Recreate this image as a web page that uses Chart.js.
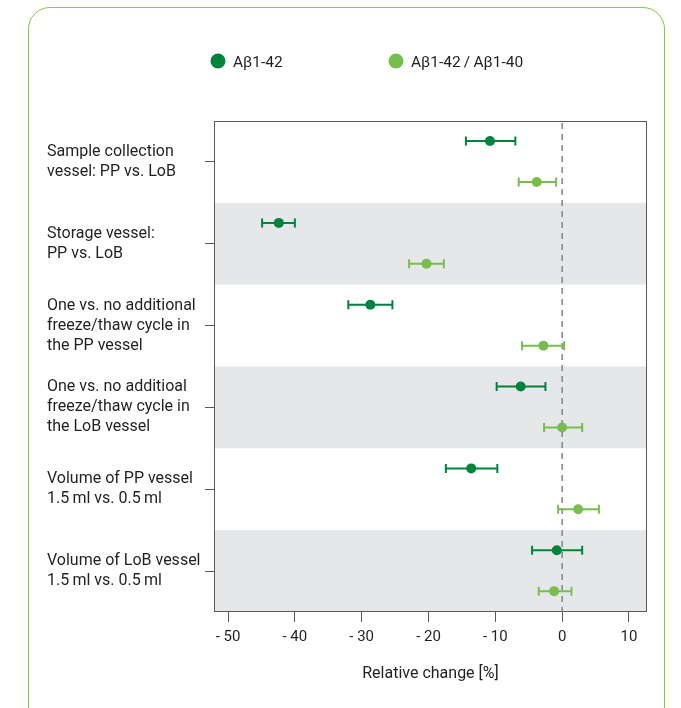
<!DOCTYPE html>
<html>
<head>
<meta charset="utf-8">
<script src="https://cdn.jsdelivr.net/npm/chart.js@4/dist/chart.umd.min.js"></script>
<style>
  html, body { margin: 0; padding: 0; background: #ffffff; }
  #wrap { position: relative; width: 681px; height: 708px; overflow: hidden; }
  #frame {
    position: absolute; left: 28px; top: 7px; width: 637px; height: 760px;
    border: 1.5px solid #8DC63F; border-radius: 22px; box-sizing: border-box;
  }
  canvas { position: absolute; left: 0; top: 0; }
</style>
</head>
<body>
<div id="wrap">
  <div id="frame"></div>
  <canvas id="c" width="681" height="708"></canvas>
</div>
<script>
// Comparisons (rows, top to bottom)
const categories = [
  ['Sample collection', 'vessel: PP vs. LoB'],
  ['Storage vessel:', 'PP vs. LoB'],
  ['One vs. no additional', 'freeze/thaw cycle in', 'the PP vessel'],
  ['One vs. no additioal', 'freeze/thaw cycle in', 'the LoB vessel'],
  ['Volume of PP vessel', '1.5\u2009ml vs. 0.5\u2009ml'],
  ['Volume of LoB vessel', '1.5\u2009ml vs. 0.5\u2009ml']
];

// Aβ1-42: relative change [%] with confidence limits
const ab42Mean = [-10.8, -42.4, -28.7, -6.2, -13.6, -0.8];
const ab42Low  = [-14.4, -44.9, -32.0, -9.8, -17.4, -4.5];
const ab42High = [-7.0, -40.0, -25.4, -2.5, -9.7, 3.0];

// Aβ1-42 / Aβ1-40 ratio
const ratioMean = [-3.8, -20.3, -2.8, 0.0, 2.4, -1.2];
const ratioLow  = [-6.5, -22.9, -6.0, -2.7, -0.6, -3.5];
const ratioHigh = [-0.9, -17.7, 0.3, 3.0, 5.5, 1.4];

const xTickValues = [-50, -40, -30, -20, -10, 0, 10];

const seriesNames = ['A\u03B21-42', 'A\u03B21-42\u2009/\u2009A\u03B21-40'];
const DARK = '#00843D';
const LIGHT = '#78BE4E';
const FONT = 'Roboto, "Liberation Sans", sans-serif';
const TEXT = '#231F20';

function rowsToPoints(mean, low, high, shift) {
  return mean.map((m, i) => ({ x: m, y: i + shift, lo: low[i], hi: high[i] }));
}

// Alternating grey row bands, drawn beneath everything else
const bandsPlugin = {
  id: 'bands',
  beforeDraw(chart) {
    const { ctx, chartArea: a, scales: { y } } = chart;
    ctx.save();
    ctx.fillStyle = '#E6E7E8';
    categories.forEach((_, i) => {
      if (i % 2 === 1) {
        const t = y.getPixelForValue(i - 0.5);
        const b = y.getPixelForValue(i + 0.5);
        ctx.fillRect(a.left, Math.min(t, b), a.right - a.left, Math.abs(b - t));
      }
    });
    ctx.restore();
  }
};

// Plot frame, zero reference line and horizontal error bars
const overlayPlugin = {
  id: 'overlay',
  beforeDatasetsDraw(chart) {
    const { ctx, chartArea: a, scales: { x, y } } = chart;
    ctx.save();
    // frame
    ctx.strokeStyle = '#58595B';
    ctx.lineWidth = 1;
    ctx.strokeRect(Math.round(a.left) + 0.5, Math.round(a.top) + 0.5,
                   Math.round(a.right - a.left) - 1, Math.round(a.bottom - a.top) - 1);
    // dashed zero line
    const x0 = x.getPixelForValue(0);
    ctx.strokeStyle = '#7A7B7D';
    ctx.lineWidth = 1.4;
    ctx.setLineDash([6, 5]);
    ctx.beginPath();
    ctx.moveTo(x0, a.top + 2);
    ctx.lineTo(x0, a.bottom);
    ctx.stroke();
    ctx.setLineDash([]);
    // error bars
    chart.data.datasets.forEach((ds) => {
      ctx.strokeStyle = ds.backgroundColor;
      ctx.lineWidth = 2;
      ds.data.forEach((p) => {
        const py = y.getPixelForValue(p.y);
        const xl = x.getPixelForValue(p.lo);
        const xh = x.getPixelForValue(p.hi);
        ctx.beginPath();
        ctx.moveTo(xl, py); ctx.lineTo(xh, py);
        ctx.moveTo(xl, py - 4.5); ctx.lineTo(xl, py + 4.5);
        ctx.moveTo(xh, py - 4.5); ctx.lineTo(xh, py + 4.5);
        ctx.stroke();
      });
    });
    ctx.restore();
  }
};

// Legend row above the plot
const legendPlugin = {
  id: 'dotLegend',
  afterDraw(chart) {
    const { ctx, chartArea: a } = chart;
    ctx.save();
    ctx.font = '15.5px ' + FONT;
    ctx.textBaseline = 'middle';
    ctx.textAlign = 'left';
    const yMid = 61;
    const starts = [a.left + 4, a.left + 182];
    chart.data.datasets.forEach((ds, i) => {
      const cx = starts[i];
      ctx.fillStyle = ds.backgroundColor;
      ctx.beginPath();
      ctx.arc(cx, yMid, 7.5, 0, Math.PI * 2);
      ctx.fill();
      ctx.fillStyle = TEXT;
      ctx.fillText(ds.label, cx + 15, yMid + 2);
    });
    ctx.restore();
  }
};

new Chart(document.getElementById('c'), {
  type: 'scatter',
  data: {
    datasets: [
      {
        label: seriesNames[0],
        data: rowsToPoints(ab42Mean, ab42Low, ab42High, -0.255),
        backgroundColor: DARK, borderColor: DARK,
        pointRadius: 5, pointHoverRadius: 5, borderWidth: 0
      },
      {
        label: seriesNames[1],
        data: rowsToPoints(ratioMean, ratioLow, ratioHigh, 0.245),
        backgroundColor: LIGHT, borderColor: LIGHT,
        pointRadius: 5, pointHoverRadius: 5, borderWidth: 0
      }
    ]
  },
  options: {
    responsive: false,
    animation: false,
    events: [],
    layout: { padding: { left: 47, right: 34, top: 121, bottom: 0 } },
    plugins: { legend: { display: false }, tooltip: { enabled: false } },
    scales: {
      x: {
        type: 'linear',
        min: -52.1, max: 12.7,
        afterBuildTicks(scale) { scale.ticks = xTickValues.map(v => ({ value: v })); },
        afterFit(scale) { scale.height = 96; },
        border: { display: false },
        grid: { drawOnChartArea: false, drawTicks: true, tickLength: 10, color: '#58595B', lineWidth: 1 },
        ticks: {
          autoSkip: false, maxRotation: 0, padding: 6,
          color: TEXT, font: { family: FONT, size: 15 },
          callback: (v) => v < 0 ? '- ' + Math.abs(v) : String(v)
        },
        title: {
          display: true, text: 'Relative change [%]', color: TEXT,
          font: { family: FONT, size: 16 }, padding: { top: 4, bottom: 24 }
        }
      },
      y: {
        type: 'linear',
        min: -0.5, max: 5.5, reverse: true,
        afterBuildTicks(scale) { scale.ticks = categories.map((_, i) => ({ value: i })); },
        afterFit(scale) { scale.width = 167; },
        border: { display: false },
        grid: { drawOnChartArea: false, drawTicks: true, tickLength: 9, color: '#58595B', lineWidth: 1 },
        ticks: {
          autoSkip: false, crossAlign: 'far', padding: 4,
          color: TEXT, font: { family: FONT, size: 16, lineHeight: 1.25 },
          callback: (v) => categories[v]
        }
      }
    }
  },
  plugins: [bandsPlugin, overlayPlugin, legendPlugin]
});
</script>
</body>
</html>
